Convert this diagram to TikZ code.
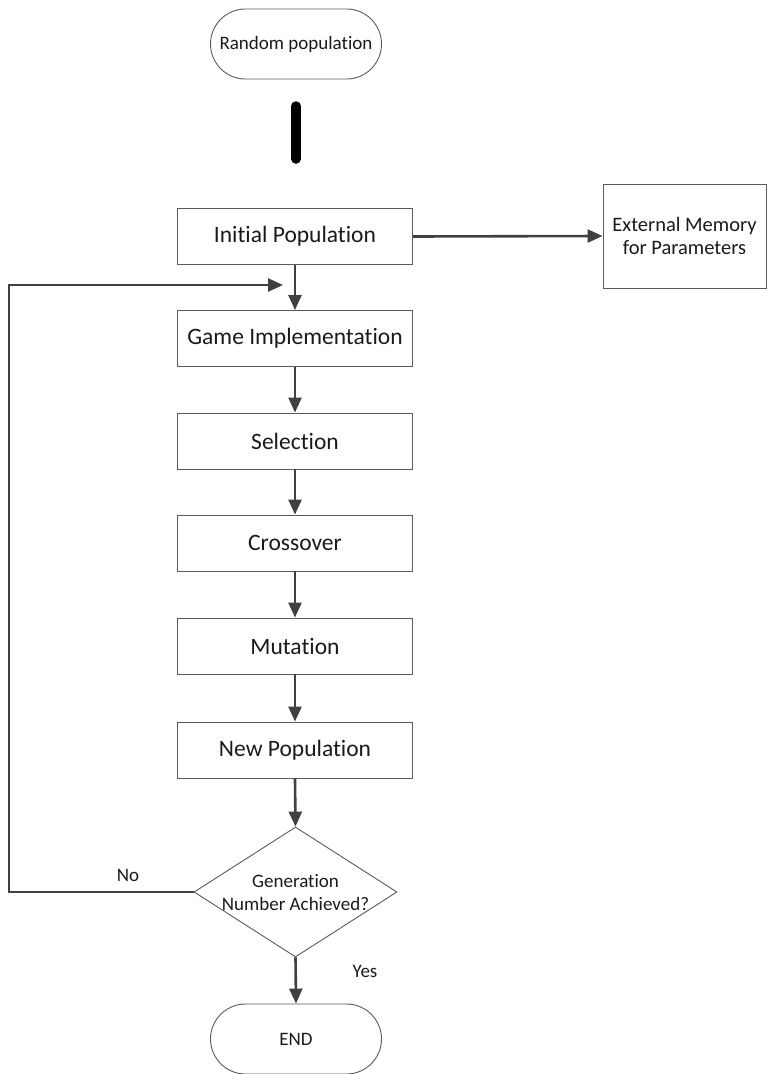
\documentclass[tikz,border=0pt]{standalone}
\usepackage{fontspec}
\setmainfont{Carlito}[Ligatures={NoCommon,NoContextual}]
\usetikzlibrary{shapes.geometric,arrows.meta}
\definecolor{linegray}{HTML}{404040}
\definecolor{boxgray}{HTML}{5A5A5A}
\definecolor{inkgray}{HTML}{1A1A1A}
\tikzset{
  procbox/.style={draw=boxgray, line width=0.9pt, rectangle, minimum width=235pt,
    minimum height=56pt, inner sep=0pt, text=inkgray,
    font=\fontsize{23.5}{28}\selectfont},
  termbox/.style={draw=boxgray, line width=0.9pt, rectangle, rounded corners=35pt,
    minimum width=171pt, minimum height=70pt, inner sep=0pt, text=inkgray,
    font=\fontsize{19}{23}\selectfont},
  flow/.style={draw=linegray, line width=2.6pt, line join=miter,
    -{Triangle[length=15pt,width=13pt]}},
  lbl/.style={text=inkgray, font=\fontsize{19}{23}\selectfont}
}
\begin{document}
\begin{tikzpicture}[x=1pt, y=-1pt]
  \useasboundingbox (0,0) rectangle (767,1074);

  % start terminal and the heavy bar below it
  \node[termbox] (rand) at (296,44) {Random population};
  \coordinate (barA) at (296,106);
  \coordinate (barB) at (296,159);
  \draw[line width=9.5pt, line cap=round, black] (barA) -- (barB);

  % main chain of process boxes
  \node[procbox] (init)  at (295,236.5) {Initial Population};
  \node[procbox] (game)  at (295,338.5) {Game Implementation};
  \node[procbox] (sel)   at (295,441)   {Selection};
  \node[procbox] (cross) at (295,543)   {Crossover};
  \node[procbox] (mut)   at (295,646)   {Mutation};
  \node[procbox] (newp)  at (295,750)   {New Population};

  % side store
  \node[draw=boxgray, line width=0.9pt, rectangle, minimum width=163pt,
        minimum height=104pt, inner sep=0pt, align=center, text=inkgray,
        font=\fontsize{20.5}{23.5}\selectfont]
        (ext) at (684.5,236) {External Memory\\for Parameters};

  % decision
  \node[draw=boxgray, line width=0.9pt, diamond, minimum width=203pt,
        minimum height=130pt, inner sep=0pt] (dec) at (295.5,892) {};
  \node[lbl, align=center] (dectxt) at (295.5,893) {Generation\\Number Achieved?};

  % end terminal
  \node[termbox] (end) at (296,1039) {END};

  % connectors
  \draw[flow] (init.east) -- (ext.west);
  \draw[flow] (init.south) -- (game.north);
  \draw[flow] (game.south) -- (sel.north);
  \draw[flow] (sel.south) -- (cross.north);
  \draw[flow] (cross.south) -- (mut.north);
  \draw[flow] (mut.south) -- (newp.north);
  \draw[flow] (newp.south) -- (dec.north);
  \draw[flow] (dec.south) -- (end.north);

  % loop back when the generation count is not yet reached
  \coordinate (loopL) at (9,285);
  \coordinate (loopT) at (283,285);
  \draw[flow] (dec.west) -| (loopL) -- (loopT);

  \node[lbl] (no)  at (128,875) {No};
  \node[lbl] (yes) at (365,971) {Yes};
\end{tikzpicture}
\end{document}
